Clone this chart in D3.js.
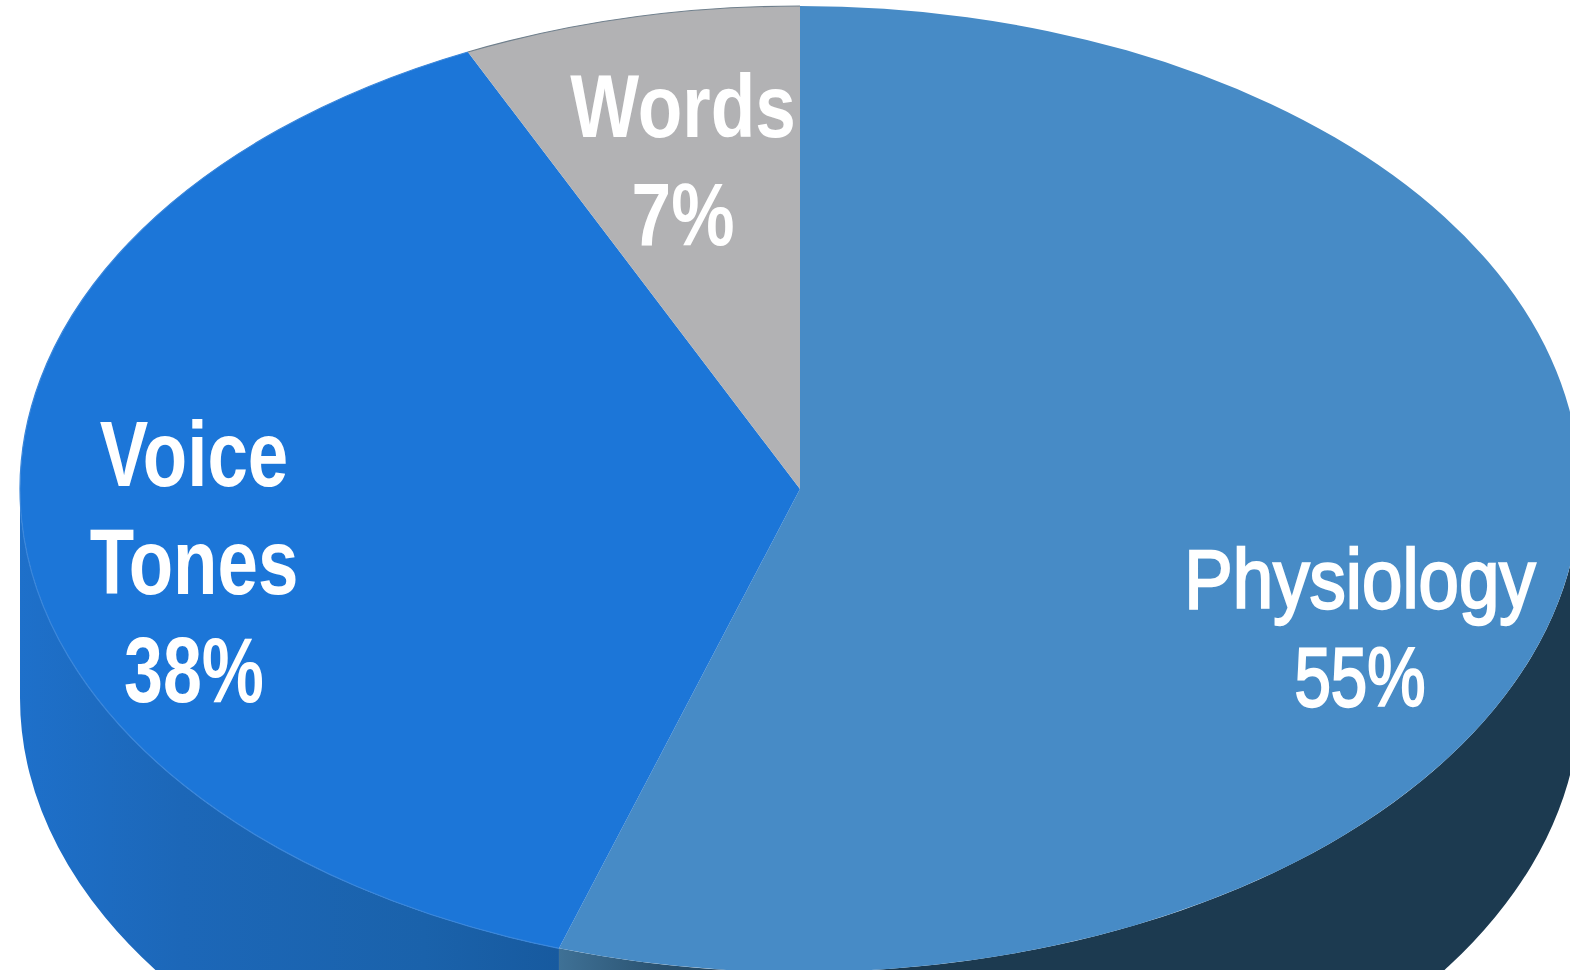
<!DOCTYPE html>
<html>
<head>
<meta charset="utf-8">
<script src="https://cdn.jsdelivr.net/npm/d3@7"></script>
<style>
  html, body { margin: 0; padding: 0; background: #fff; overflow: hidden; }
  text { font-family: "Liberation Sans", Arial, sans-serif; fill: #fff; text-anchor: middle; }
</style>
</head>
<body>
<div id="chart"></div>
<script>
const categories = ['Physiology', 'Voice Tones', 'Words'];
const shares = [55, 38, 7];
const labelLines = [['Physiology', '55%'], ['Voice', 'Tones', '38%'], ['Words', '7%']];
const topColors = ['#478bc6', '#1c76d8', '#b2b2b4'];
const rimColors = ['none', '#3a86da', '#6f7f8c'];
const wallStops = [
  [['0', '#3f7196'], ['0.1', '#2a5270'], ['0.25', '#1c3a50'], ['1', '#1c3a50']],
  [['0', '#1e70ca'], ['0.3', '#1c67b8'], ['0.75', '#1a62ab'], ['1', '#175a9f']],
  [['0', '#8c8c8c'], ['1', '#8c8c8c']]
];

// label layout: centre x, first baseline, line step, squeeze per line, font
const labelLayout = [
  { x: 1360, y: 608, step: 98, sx: [0.865, 0.78], size: 84, weight: 'normal', stroke: 2.4 },
  { x: 194, y: 486, step: 108, sx: [0.79, 0.79, 0.76], size: 92, weight: 'bold', stroke: 0 },
  { x: 683, y: 137, step: 108, sx: [0.82, 0.8], size: 89, weight: 'bold', stroke: 0 }
];

const width = 1570;
const height = 970;
const cx = 800;
const cy = 489;
const rx = 780;
const ry = 483;
const depth = 209;
const yScale = ry / rx;

const svg = d3.select('#chart')
  .append('svg')
  .attr('width', width)
  .attr('height', height)
  .style('display', 'block');

const defs = svg.append('defs');

const pie = d3.pie().sort(null).value(d => d);
const arcs = pie(shares);

const arc = d3.arc().innerRadius(0).outerRadius(rx);

// outside wall of a slice, only the part facing the viewer
function wallPath(d) {
  const a0 = Math.max(d.startAngle, Math.PI / 2);
  const a1 = Math.min(d.endAngle, Math.PI * 1.5);
  if (a1 <= a0) return null;
  const off = depth / yScale;
  const p = d3.path();
  p.arc(0, 0, rx, a0 - Math.PI / 2, a1 - Math.PI / 2);
  p.arc(0, off, rx, a1 - Math.PI / 2, a0 - Math.PI / 2, true);
  p.closePath();
  return p.toString();
}

function rimPath(d) {
  const p = d3.path();
  p.arc(0, 0, rx, d.startAngle - Math.PI / 2, d.endAngle - Math.PI / 2);
  return p.toString();
}

// wall gradients run across the visible width of each slice
arcs.forEach((d, i) => {
  const a0 = Math.max(d.startAngle, Math.PI / 2);
  const a1 = Math.min(d.endAngle, Math.PI * 1.5);
  if (a1 <= a0) return;
  const grad = defs.append('linearGradient')
    .attr('id', 'wall' + i)
    .attr('gradientUnits', 'userSpaceOnUse')
    .attr('x1', Math.sin(a1) * rx)
    .attr('x2', Math.sin(a0) * rx)
    .attr('y1', 0)
    .attr('y2', 0);
  grad.selectAll('stop')
    .data(wallStops[i])
    .join('stop')
    .attr('offset', s => s[0])
    .attr('stop-color', s => s[1]);
});

const pieGroup = svg.append('g')
  .attr('transform', `translate(${cx},${cy}) scale(1,${yScale})`);

pieGroup.selectAll('path.wall')
  .data(arcs)
  .join('path')
  .attr('class', 'wall')
  .attr('d', wallPath)
  .attr('fill', (d, i) => `url(#wall${i})`);

pieGroup.selectAll('path.top')
  .data(arcs)
  .join('path')
  .attr('class', 'top')
  .attr('d', arc)
  .attr('fill', (d, i) => topColors[i]);

pieGroup.selectAll('path.rim')
  .data(arcs)
  .join('path')
  .attr('class', 'rim')
  .attr('d', rimPath)
  .attr('fill', 'none')
  .attr('stroke', (d, i) => rimColors[i])
  .attr('stroke-width', 1.2)
  .attr('vector-effect', 'non-scaling-stroke');

const labels = svg.selectAll('g.label')
  .data(labelLines)
  .join('g')
  .attr('class', 'label');

labels.each(function (lines, i) {
  const layout = labelLayout[i];
  d3.select(this).selectAll('text')
    .data(lines)
    .join('text')
    .attr('transform', (d, j) => `translate(${layout.x},${layout.y + j * layout.step}) scale(${layout.sx[j]},1)`)
    .attr('font-size', layout.size)
    .attr('font-weight', layout.weight)
    .attr('stroke', layout.stroke ? '#fff' : 'none')
    .attr('stroke-width', layout.stroke)
    .text(d => d);
});
</script>
</body>
</html>
